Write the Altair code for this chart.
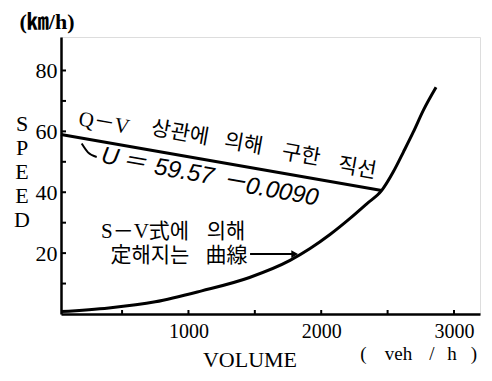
import altair as alt
import pandas as pd

# ---- data ----
vol_curve = [40, 400, 750, 1100, 1460, 1765, 1916, 2066, 2217, 2343, 2456, 2543, 2619, 2694, 2769, 2865]
spd_curve = [0.8, 2.0, 4.0, 7.6, 12.0, 17.6, 21.5, 26.1, 31.4, 36.2, 40.6, 46.7, 53.2, 59.8, 66.9, 74.5]
vol_line = [40, 2456]
spd_line = [59.0, 40.6]
x_tick_marks = [500, 1000, 1500, 2000, 2500, 3000]
y_tick_marks = [10, 20, 30, 40, 50, 60, 70, 80]
x_labels = [1000, 2000, 3000]
y_labels = [20, 40, 60, 80]
hook_vol = [196, 243, 309]
hook_spd = [56.0, 53.1, 51.6]
arrow_vol = [1464, 1800]
arrow_spd = [19.7, 19.7]

qv_words = ["Q－V", "상관에", "의해", "구한", "직선"]
eq_parts = ["U", "＝", "59.57", "－", "0.0090"]
sv_words1 = ["S－V式에", "의해"]
sv_words2 = ["定해지는", "曲線"]
unit_parts = ["(", "veh", "/", "h", ")"]

SERIF = "Liberation Serif, Noto Sans CJK KR"
EQF = "Liberation Sans, Noto Sans CJK KR"

xs = alt.Scale(domain=[40, 3196], nice=False, zero=False)
ys = alt.Scale(domain=[0, 91], nice=False)

W, H = 419, 277

curve_df = pd.DataFrame({"v": vol_curve, "s": spd_curve})
line_df = pd.DataFrame({"v": vol_line, "s": spd_line})

base_x = alt.X("v:Q", scale=xs,
               axis=alt.Axis(values=x_labels, ticks=False, grid=False, title=None,
                             domainColor="black", domainWidth=2.5, labelFont="Liberation Serif",
                             labelFontSize=20, labelColor="black", labelPadding=7,
                             labelFlush=False, format="d"))
base_y = alt.Y("s:Q", scale=ys,
               axis=alt.Axis(values=y_labels, ticks=False, grid=False, title=None,
                             domainColor="black", domainWidth=2.5, labelFont="Liberation Serif",
                             labelFontSize=22, labelColor="black", labelPadding=4))

curve = alt.Chart(curve_df).mark_line(color="black", strokeWidth=3, interpolate="monotone").encode(
    x=base_x, y=base_y)
sline = alt.Chart(line_df).mark_line(color="black", strokeWidth=3).encode(x="v:Q", y="s:Q")

ytick = alt.Chart(pd.DataFrame({"s": y_tick_marks})).mark_rule(color="black", strokeWidth=2).encode(
    y="s:Q", x=alt.value(0), x2=alt.value(5))
xtick = alt.Chart(pd.DataFrame({"v": x_tick_marks})).mark_rule(color="black", strokeWidth=2).encode(
    x="v:Q", y=alt.value(H), y2=alt.value(H - 4))

hook = alt.Chart(pd.DataFrame({"v": hook_vol, "s": hook_spd})).mark_line(
    color="black", strokeWidth=2, interpolate="monotone").encode(x="v:Q", y="s:Q")
arrow = alt.Chart(pd.DataFrame({"v": arrow_vol, "s": arrow_spd})).mark_line(
    color="black", strokeWidth=2).encode(x="v:Q", y="s:Q")
arrow_head = alt.Chart(pd.DataFrame({"v": [arrow_vol[-1]], "s": [arrow_spd[-1]]})).mark_point(
    shape="triangle-right", filled=True, color="black", size=60, opacity=1).encode(x="v:Q", y="s:Q")


def words(texts, vs, ss, size, angle=0, font=SERIF, style="normal"):
    return alt.Chart(pd.DataFrame({"v": vs, "s": ss, "t": texts})).mark_text(
        font=font, fontSize=size, angle=angle, fontStyle=style,
        color="black", align="center", baseline="middle").encode(x="v:Q", y="s:Q", text="t:N")


def ptxt(texts, pxs, py, size, font=SERIF, weight="normal", line_height=None):
    kw = {}
    if line_height is not None:
        kw["lineHeight"] = line_height
        kw["lineBreak"] = "\n"
    layers = []
    for t, px in zip(texts, pxs):
        layers.append(alt.Chart(pd.DataFrame({"t": [t]})).mark_text(
            font=font, fontSize=size, fontWeight=weight, color="black",
            align="center", baseline="middle", **kw).encode(
            x=alt.value(px), y=alt.value(py), text="t:N"))
    return layers


t_qv = words(qv_words, [364, 936, 1415, 1848, 2270], [62.6, 59.3, 55.7, 52.0, 47.7], 21, angle=10)
t_u = words(eq_parts, [409, 590, 966, 1343, 1705], [51.5, 49.8, 46.6, 43.3, 40.0], 24,
            angle=10, font=EQF, style="italic")
t_sv1 = words(sv_words1, [673, 1283], [26.9, 26.9], 21)
t_sv2 = words(sv_words2, [710, 1287], [19.0, 19.0], 21)

text_layers = []
text_layers += ptxt(["(㎞/h)"], [-14], -15, 22, weight="bold")
text_layers += ptxt(["S\nP\nE\nE\nD"], [-39], 86.5, 22, line_height=24)
text_layers += ptxt(unit_parts, [302.5, 337.5, 371, 391, 413], 317, 19)
text_layers += ptxt(["VOLUME"], [189], 323, 22)

chart = alt.layer(curve, sline, ytick, xtick, hook, arrow, arrow_head,
                  t_qv, t_u, t_sv1, t_sv2, *text_layers).properties(
    width=W, height=H,
    autosize=alt.AutoSizeParams(type="none"),
    padding={"left": 53, "top": 29, "right": 4, "bottom": 59},
).configure_view(stroke=None).configure(background="white")

chart.save("out.html", embed_options={"renderer": "svg", "actions": False})
